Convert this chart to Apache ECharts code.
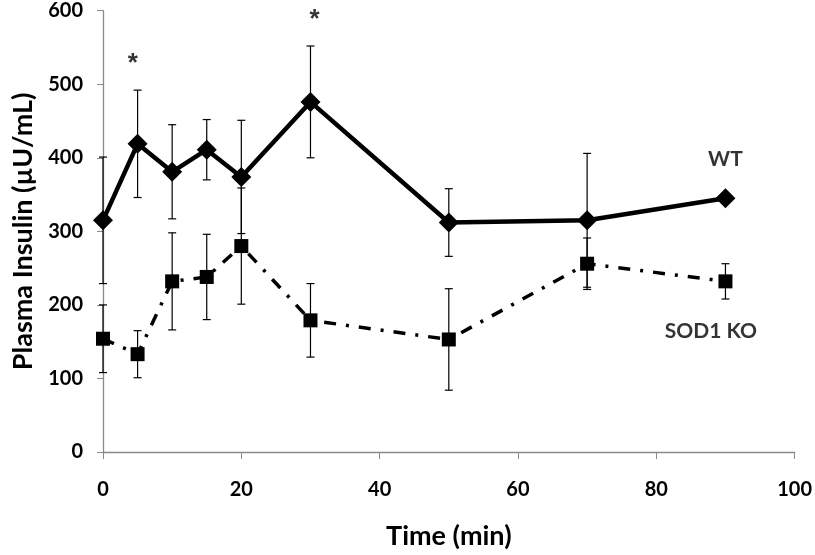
<!DOCTYPE html>
<html>
<head>
<meta charset="utf-8">
<script src="https://cdn.jsdelivr.net/npm/echarts@6/dist/echarts.min.js"></script>
<style>html,body{margin:0;padding:0;background:#fff}#c{width:815px;height:555px}</style>
</head>
<body>
<div id="c"></div>
<script>
const times = [0, 5, 10, 15, 20, 30, 50, 70, 90];
const wtMean = [315, 419, 381, 411, 374, 476, 312, 315, 345];
const wtErr  = [86, 73, 64, 41, 77, 76, 46, 91, 0];
const koMean = [154, 133, 232, 238, 280, 179, 153, 256, 232];
const koErr  = [46, 32, 66, 58, 79, 50, 69, 35, 24];
const xTicks = [0, 20, 40, 60, 80, 100];
const yTicks = [0, 100, 200, 300, 400, 500, 600];
const starX = [4.3, 30.6];
const starY = [528, 587];
const seriesLabelText = ['WT', 'SOD1 KO'];
const seriesLabelX = [90.0, 87.9];
const seriesLabelY = [398, 164];

const FONT = 'Lato';
const wtData = times.map((t, i) => [t, wtMean[i]]);
const koData = times.map((t, i) => [t, koMean[i]]);
const wtBars = times.map((t, i) => [t, wtMean[i] - wtErr[i], wtMean[i] + wtErr[i]]).filter((d, i) => wtErr[i] > 0);
const koBars = times.map((t, i) => [t, koMean[i] - koErr[i], koMean[i] + koErr[i]]);

function errRender(params, api) {
  const x = api.value(0);
  const lo = api.coord([x, api.value(1)]);
  const hi = api.coord([x, api.value(2)]);
  const w = 4;
  const style = { stroke: '#000', lineWidth: 1.2, fill: null };
  return {
    type: 'group',
    children: [
      { type: 'line', shape: { x1: lo[0], y1: lo[1], x2: hi[0], y2: hi[1] }, style },
      { type: 'line', shape: { x1: lo[0] - w, y1: lo[1], x2: lo[0] + w, y2: lo[1] }, style },
      { type: 'line', shape: { x1: hi[0] - w, y1: hi[1], x2: hi[0] + w, y2: hi[1] }, style }
    ]
  };
}

const annoData = [];
starX.forEach((x, i) => annoData.push({
  value: [x, starY[i]], name: '*',
  label: { fontFamily: 'Liberation Sans', fontSize: 26, fontWeight: 'bold' }
}));
seriesLabelText.forEach((s, i) => annoData.push({
  value: [seriesLabelX[i], seriesLabelY[i]], name: s
}));

const chart = echarts.init(document.getElementById('c'), null, { renderer: 'canvas' });
chart.setOption({
  animation: false,
  backgroundColor: '#fff',
  grid: { left: 103, right: 19, top: 10.7, bottom: 100, containLabel: false },
  xAxis: {
    type: 'value', min: xTicks[0], max: xTicks[xTicks.length - 1], interval: 20,
    name: 'Time (min)', nameLocation: 'middle', nameGap: 71,
    nameTextStyle: { fontFamily: FONT, fontWeight: 'bold', fontSize: 27, color: '#000' },
    axisLine: { lineStyle: { color: '#8a8a8a', width: 1.3 } },
    axisTick: { show: true, length: 7, lineStyle: { color: '#8a8a8a' } },
    axisLabel: { margin: 28, fontFamily: FONT, fontWeight: 'bold', fontSize: 20, color: '#000' },
    splitLine: { show: false }
  },
  yAxis: {
    type: 'value', min: yTicks[0], max: yTicks[yTicks.length - 1], interval: 100,
    name: 'Plasma Insulin (\u00b5U/mL)', nameLocation: 'middle', nameGap: 66,
    nameTextStyle: { fontFamily: FONT, fontWeight: 'bold', fontSize: 27, color: '#000' },
    axisLine: { show: true, lineStyle: { color: '#8a8a8a', width: 1.3 } },
    axisTick: { show: true, length: 6, lineStyle: { color: '#8a8a8a' } },
    axisLabel: { margin: 20, fontFamily: FONT, fontWeight: 'bold', fontSize: 20, color: '#000' },
    splitLine: { show: false }
  },
  series: [
    { type: 'custom', name: 'wtErr', data: wtBars, renderItem: errRender, z: 1, silent: true },
    { type: 'custom', name: 'koErr', data: koBars, renderItem: errRender, z: 1, silent: true },
    {
      type: 'line', name: 'WT', data: wtData, z: 3,
      symbol: 'diamond', symbolSize: 20, showAllSymbol: true,
      itemStyle: { color: '#000' },
      lineStyle: { color: '#000', width: 4.5 }
    },
    {
      type: 'line', name: 'SOD1 KO', data: koData, z: 2,
      symbol: 'rect', symbolSize: 14, showAllSymbol: true,
      itemStyle: { color: '#000' },
      lineStyle: { color: '#000', width: 3.5, type: [12, 10, 3, 10], cap: 'butt' }
    },
    {
      type: 'scatter', name: 'annotations', z: 5, silent: true,
      symbolSize: 0,
      data: annoData,
      label: {
        show: true, position: 'inside', formatter: p => p.name,
        fontFamily: FONT, fontWeight: 'bold', fontSize: 21, color: '#000'
      }
    }
  ]
});
</script>
</body>
</html>
